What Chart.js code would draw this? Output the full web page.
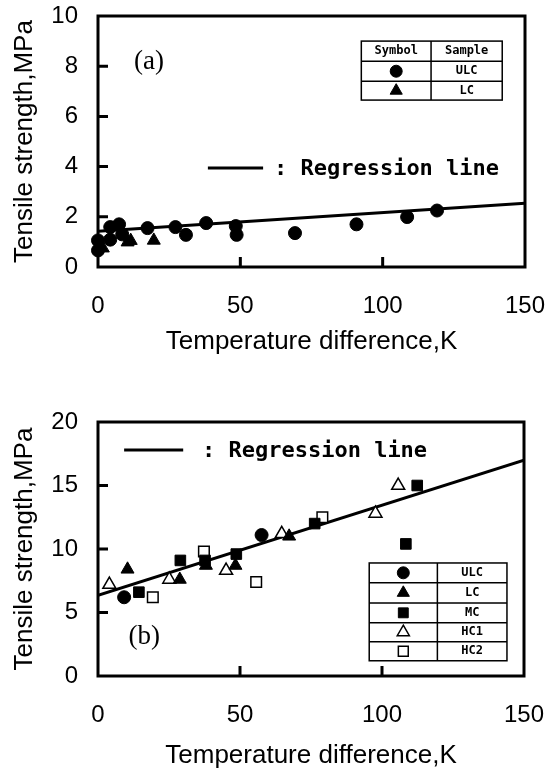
<!DOCTYPE html>
<html>
<head>
<meta charset="utf-8">
<script src="https://cdn.jsdelivr.net/npm/chart.js@4.4.1/dist/chart.umd.min.js"></script>
<style>
  body { margin: 0; background: #fff; }
  canvas { position: absolute; left: 0; }
  #chartA { top: 0; }
  #chartB { top: 380px; }
</style>
</head>
<body>
<canvas id="chartA" width="550" height="380"></canvas>
<canvas id="chartB" width="550" height="389"></canvas>
<script>
// (a) tensile strength vs temperature difference, ULC / LC
var ulcA = [[0, 1.06], [0, 0.66], [4.3, 1.59], [4.3, 1.09], [7.4, 1.7], [8.5, 1.3], [17.4, 1.55], [27.2, 1.59],
  [30.9, 1.28], [38, 1.75], [48.4, 1.63], [48.7, 1.28], [69.2, 1.35], [90.8, 1.7], [108.6, 1.99], [119.1, 2.25]]
var lcA = [[1.7, 0.75], [10.4, 0.99], [11.5, 1.05], [19.6, 1.06]]
var regA = [[0, 1.42], [150, 2.54]]

// (b) ULC / LC / MC / HC1 / HC2
var ulcB = [[9.2, 6.2], [57.6, 11.1]]
var lcB = [[10.4, 8.4], [28.8, 7.6], [38, 8.7], [48.4, 8.7], [67.3, 11.0]]
var mcB = [[14.4, 6.6], [29, 9.1], [37.7, 9.1], [48.7, 9.6], [76.3, 12], [108.4, 10.4], [112.4, 15]]
var hc1B = [[4, 7.2], [25.1, 7.6], [45.1, 8.3], [64.7, 11.2], [97.7, 12.8], [105.7, 15]]
var hc2B = [[19.3, 6.2], [37.3, 9.8], [55.7, 7.4], [79, 12.5]]
var regB = [[0, 6.35], [150, 17]]

var xTickStep = 50
var yTickStepA = 2
var yTickStepB = 5
var xTitle = 'Temperature difference,K'
var yTitle = 'Tensile strength,MPa'
var regLabel = ': Regression line'

function pts(list) {
  return list.map(function (p) { return { x: p[0], y: p[1] } })
}

var styles = {
  ULC: { pointStyle: 'circle', pointRadius: 6.5, backgroundColor: '#000', borderColor: '#000', borderWidth: 1 },
  LC: { pointStyle: 'triangle', pointRadius: 7.5, backgroundColor: '#000', borderColor: '#000', borderWidth: 1 },
  MC: { pointStyle: 'rect', pointRadius: 7.5, backgroundColor: '#000', borderColor: '#000', borderWidth: 1 },
  HC1: { pointStyle: 'triangle', pointRadius: 7.5, backgroundColor: '#fff', borderColor: '#000', borderWidth: 1.5 },
  HC2: { pointStyle: 'rect', pointRadius: 7.5, backgroundColor: '#fff', borderColor: '#000', borderWidth: 1.5 }
}

function pointSet(name, list) {
  var s = styles[name]
  return {
    label: name,
    data: pts(list),
    showLine: false,
    clip: false,
    pointStyle: s.pointStyle,
    pointRadius: s.pointRadius,
    pointBackgroundColor: s.backgroundColor,
    pointBorderColor: s.borderColor,
    pointBorderWidth: s.borderWidth
  }
}

function regSet(list) {
  return {
    label: 'Regression line',
    data: pts(list),
    showLine: true,
    pointRadius: 0,
    borderColor: '#000',
    borderWidth: 3
  }
}

var decor = {
  id: 'decor',
  beforeDatasetsDraw(chart) {
    var ctx = chart.ctx, a = chart.chartArea, xs = chart.scales.x, ys = chart.scales.y
    ctx.save()
    ctx.strokeStyle = '#000'
    ctx.lineWidth = 3
    ctx.strokeRect(a.left, a.top, a.right - a.left, a.bottom - a.top)
    ctx.beginPath()
    ys.ticks.forEach(function (t) {
      if (t.value <= ys.min || t.value >= ys.max) return
      var py = ys.getPixelForValue(t.value)
      ctx.moveTo(a.left, py)
      ctx.lineTo(a.left + 10, py)
    })
    xs.ticks.forEach(function (t) {
      if (t.value <= xs.min || t.value >= xs.max) return
      var px = xs.getPixelForValue(t.value)
      ctx.moveTo(px, a.bottom)
      ctx.lineTo(px, a.bottom - 10)
    })
    ctx.stroke()
    ctx.restore()
  },
  afterDatasetsDraw(chart, args, opts) {
    var ctx = chart.ctx, xs = chart.scales.x, ys = chart.scales.y
    ctx.save()
    ctx.fillStyle = '#000'
    ctx.strokeStyle = '#000'

    // panel label
    ctx.font = '27px "Liberation Serif", serif'
    ctx.textAlign = 'center'
    ctx.textBaseline = 'middle'
    ctx.fillText(opts.panel.text, xs.getPixelForValue(opts.panel.x), ys.getPixelForValue(opts.panel.y))

    // regression key
    var k = opts.key
    var ky = ys.getPixelForValue(k.y)
    ctx.lineWidth = 3
    ctx.beginPath()
    ctx.moveTo(xs.getPixelForValue(k.x1), ky)
    ctx.lineTo(xs.getPixelForValue(k.x2), ky)
    ctx.stroke()
    ctx.font = 'bold 22px "DejaVu Sans Mono", monospace'
    ctx.textAlign = 'left'
    ctx.fillText(regLabel, xs.getPixelForValue(k.xt), ky + 1)

    // symbol table
    var t = opts.table
    var l = xs.getPixelForValue(t.x0), r = xs.getPixelForValue(t.x1), m = xs.getPixelForValue(t.xm)
    var ysPix = t.rows.map(function (v) { return ys.getPixelForValue(v) })
    var top = ysPix[0], bot = ysPix[ysPix.length - 1]
    ctx.fillStyle = '#fff'
    ctx.fillRect(l, top, r - l, bot - top)
    ctx.lineWidth = 1.5
    ctx.strokeRect(l, top, r - l, bot - top)
    ctx.beginPath()
    ctx.moveTo(m, top)
    ctx.lineTo(m, bot)
    for (var i = 1; i < ysPix.length - 1; i++) {
      ctx.moveTo(l, ysPix[i])
      ctx.lineTo(r, ysPix[i])
    }
    ctx.stroke()
    ctx.font = 'bold 12px "DejaVu Sans Mono", monospace'
    ctx.textAlign = 'center'
    t.cells.forEach(function (c, i) {
      var cy = (ysPix[i] + ysPix[i + 1]) / 2
      ctx.fillStyle = '#000'
      if (c.header) {
        ctx.fillText(c.header, (l + m) / 2, cy)
      } else {
        var s = styles[c.name]
        ctx.fillStyle = s.backgroundColor
        ctx.strokeStyle = s.borderColor
        ctx.lineWidth = s.borderWidth
        Chart.helpers.drawPoint(ctx, {
          pointStyle: s.pointStyle, rotation: 0, radius: s.pointRadius - 0.5, borderWidth: s.borderWidth
        }, (l + m) / 2, cy)
        ctx.fillStyle = '#000'
      }
      ctx.fillText(c.name, (m + r) / 2, cy)
    })
    ctx.restore()
  }
}

function makeOptions(yMax, yStep, pad, xHeight, extra) {
  return {
    responsive: false,
    animation: false,
    layout: { padding: pad },
    plugins: { legend: { display: false }, tooltip: { enabled: false }, decor: extra },
    scales: {
      x: {
        type: 'linear', min: 0, max: 150,
        grid: { display: false, drawTicks: false },
        border: { display: false },
        ticks: { stepSize: xTickStep, padding: 25, color: '#000', font: { family: 'Liberation Sans', size: 24 } },
        title: { display: true, text: xTitle, color: '#000', padding: { top: 0, bottom: extra.xTitlePad },
          font: { family: 'Liberation Sans', size: 26, lineHeight: 1 } },
        afterFit: function (s) { s.height = xHeight; s.paddingLeft = 0; s.paddingRight = 0 }
      },
      y: {
        type: 'linear', min: 0, max: yMax,
        grid: { display: false, drawTicks: false },
        border: { display: false },
        ticks: { stepSize: yStep, padding: 20, color: '#000', font: { family: 'Liberation Sans', size: 24 } },
        title: { display: true, text: yTitle, color: '#000', padding: { top: 12, bottom: 0 },
          font: { family: 'Liberation Sans', size: 26, lineHeight: 1 } },
        afterFit: function (s) { s.width = 98; s.paddingTop = 0; s.paddingBottom = 0 }
      }
    }
  }
}

// nudge layout padding until the plot frame sits where the original has it
function fitArea(chart, pad, target) {
  for (var i = 0; i < 4; i++) {
    var ca = chart.chartArea
    pad.top += target.top - ca.top
    pad.right += ca.right - target.right
    pad.bottom += ca.bottom - target.bottom
    chart.update()
  }
}

var padA = { top: 16, right: 25, left: 0, bottom: 0 }
var chartA = new Chart(document.getElementById('chartA'), {
  type: 'scatter',
  data: {
    datasets: [pointSet('ULC', ulcA), pointSet('LC', lcA), regSet(regA)]
  },
  options: makeOptions(10, yTickStepA, padA, 113, {
    xTitlePad: 25,
    panel: { text: '(a)', x: 17.9, y: 8.17 },
    key: { x1: 38.6, x2: 58, xt: 61.8, y: 3.94 },
    table: {
      x0: 92.5, x1: 142, xm: 117, rows: [9.0, 8.2, 7.4, 6.65],
      cells: [{ header: 'Symbol', name: 'Sample' }, { name: 'ULC' }, { name: 'LC' }]
    }
  }),
  plugins: [decor]
})
fitArea(chartA, padA, { top: 16, right: 525, bottom: 267 })

var padB = { top: 42, right: 26, left: 0, bottom: 0 }
var chartB = new Chart(document.getElementById('chartB'), {
  type: 'scatter',
  data: {
    datasets: [pointSet('ULC', ulcB), pointSet('LC', lcB), pointSet('MC', mcB),
      pointSet('HC1', hc1B), pointSet('HC2', hc2B), regSet(regB)]
  },
  options: makeOptions(20, yTickStepB, padB, 93, {
    xTitlePad: 0,
    panel: { text: '(b)', x: 16.3, y: 3.07 },
    key: { x1: 9.2, x2: 30, xt: 36.6, y: 17.8 },
    table: {
      x0: 95.5, x1: 144, xm: 119.5, rows: [8.9, 7.35, 5.75, 4.2, 2.7, 1.2],
      cells: [{ name: 'ULC' }, { name: 'LC' }, { name: 'MC' }, { name: 'HC1' }, { name: 'HC2' }]
    }
  }),
  plugins: [decor]
})
fitArea(chartB, padB, { top: 42, right: 524, bottom: 296 })
</script>
</body>
</html>
